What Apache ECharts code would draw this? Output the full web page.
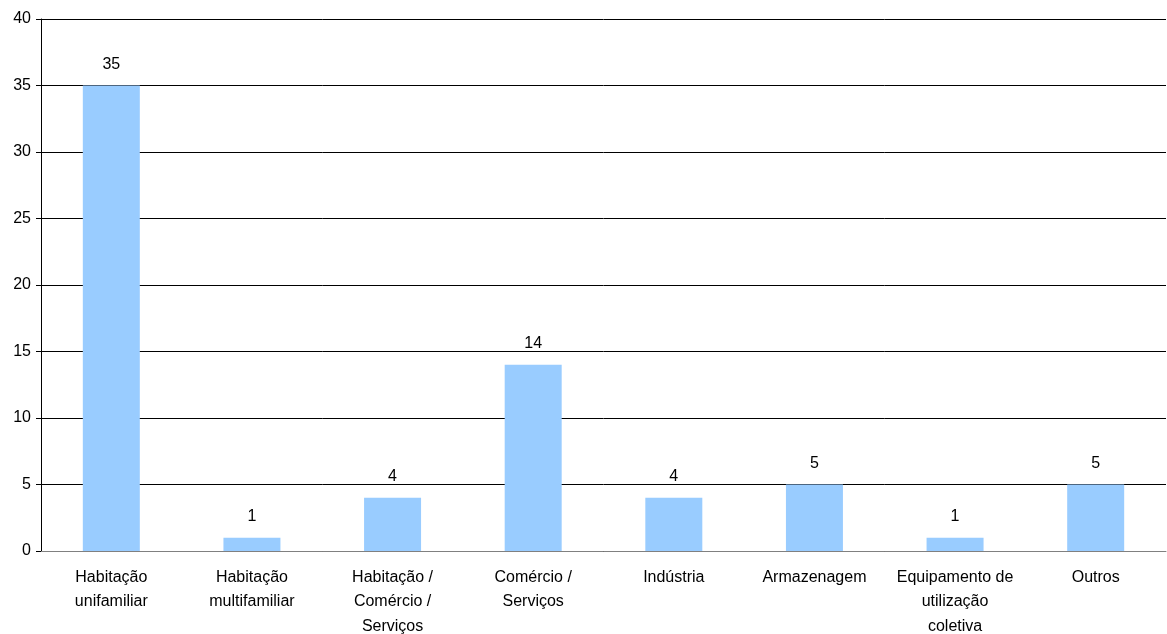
<!DOCTYPE html>
<html><head><meta charset="utf-8">
<script src="https://cdn.jsdelivr.net/npm/echarts@6/dist/echarts.min.js"></script>
<style>html,body{margin:0;padding:0;background:#fff}#c{width:1167px;height:634px}</style>
</head><body><div id="c"></div>
<script>
const categories = ["Habitação\nunifamiliar", "Habitação\nmultifamiliar", "Habitação /\nComércio /\nServiços", "Comércio /\nServiços", "Indústria", "Armazenagem", "Equipamento de\nutilização\ncoletiva", "Outros"];
const values = [35, 1, 4, 14, 4, 5, 1, 5];
const yTicks = {min: 0, max: 40, interval: 5};

const font = 'Liberation Sans, Arial, sans-serif';
const chart = echarts.init(document.getElementById('c'), null, {renderer: 'canvas'});
chart.setOption({
  animation: false,
  backgroundColor: '#fff',
  grid: {left: 41, right: 1, top: 19, bottom: 83, containLabel: false, outerBoundsMode: 'none'},
  xAxis: {
    type: 'category', data: categories,
    axisLine: {lineStyle: {color: '#808080', width: 1}},
    axisTick: {show: false},
    axisLabel: {interval: 0, color: '#000', fontFamily: font, fontSize: 16, lineHeight: 24.5, margin: 14}
  },
  yAxis: {
    type: 'value', min: yTicks.min, max: yTicks.max, interval: yTicks.interval,
    axisLine: {show: true, lineStyle: {color: '#000', width: 1}},
    axisTick: {show: true, length: 5, lineStyle: {color: '#000'}},
    axisLabel: {color: '#000', fontFamily: font, fontSize: 16, margin: 10},
    splitLine: {lineStyle: {color: '#000', width: 1}}
  },
  series: [{
    type: 'bar', data: values, barWidth: 57,
    itemStyle: {color: '#99CCFF'},
    label: {show: true, position: 'top', distance: 13, color: '#000', fontFamily: font, fontSize: 16}
  }]
});
</script></body></html>
